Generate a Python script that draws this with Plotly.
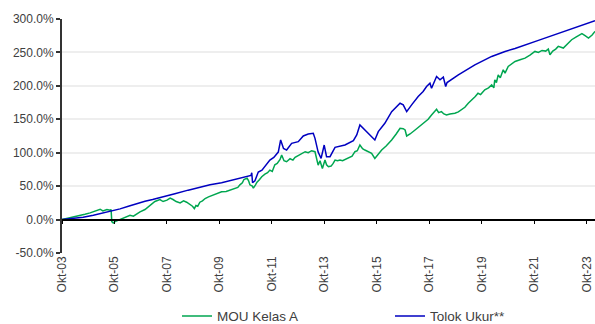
import plotly.graph_objects as go

# Cumulative return, MOU Kelas A (percent)
mou_dates = [
    "2003-10-01", "2004-01-19", "2004-04-01", "2004-06-10", "2004-08-15", "2004-10-26",
    "2005-01-26", "2005-03-15", "2005-04-22", "2005-06-17", "2005-07-31", "2005-08-14",
    "2005-08-24", "2005-09-13", "2005-10-08", "2005-11-25", "2006-01-08", "2006-02-25",
    "2006-05-05", "2006-06-21", "2006-08-08", "2006-09-21", "2006-11-29", "2007-02-06",
    "2007-04-16", "2007-06-25", "2007-08-08", "2007-10-01", "2007-11-14", "2007-12-24",
    "2008-02-06", "2008-04-01", "2008-05-19", "2008-07-01", "2008-08-18", "2008-09-20",
    "2008-10-16", "2008-11-07", "2008-12-02", "2009-01-01", "2009-02-06", "2009-03-15",
    "2009-05-01", "2009-06-18", "2009-08-15", "2009-10-30", "2010-01-01", "2010-02-25",
    "2010-05-05", "2010-06-13", "2010-07-12", "2010-08-15", "2010-09-06", "2010-10-20",
    "2010-11-10", "2010-11-28", "2011-01-01", "2011-01-15", "2011-02-14", "2011-03-07",
    "2011-04-12", "2011-05-12", "2011-06-25", "2011-08-01", "2011-09-02", "2011-10-05",
    "2011-11-10", "2011-12-13", "2012-01-22", "2012-02-13", "2012-03-17", "2012-04-22",
    "2012-06-09", "2012-07-19", "2012-08-18", "2012-09-20", "2012-10-27", "2012-12-02",
    "2013-01-05", "2013-02-17", "2013-04-05", "2013-05-22", "2013-06-13", "2013-07-05",
    "2013-07-31", "2013-09-02", "2013-10-08", "2013-10-30", "2013-11-25", "2014-01-01",
    "2014-01-30", "2014-02-25", "2014-04-01", "2014-05-05", "2014-06-10", "2014-07-13",
    "2014-08-29", "2014-10-20", "2014-11-29", "2015-01-01", "2015-02-06", "2015-03-15",
    "2015-04-16", "2015-06-03", "2015-07-19", "2015-09-02", "2015-10-16", "2015-12-06",
    "2016-02-06", "2016-03-14", "2016-04-23", "2016-06-25", "2016-08-18", "2016-10-01",
    "2016-10-27", "2016-11-18", "2017-01-04", "2017-03-15", "2017-05-23", "2017-07-31",
    "2017-09-13", "2017-10-30", "2018-01-08", "2018-02-06", "2018-03-17", "2018-04-20",
    "2018-05-26", "2018-07-13", "2018-09-20", "2018-11-07", "2018-12-24", "2019-02-06",
    "2019-03-25", "2019-05-30", "2019-07-01", "2019-08-08", "2019-09-13", "2019-11-10",
    "2020-01-01", "2020-02-14", "2020-03-15", "2020-03-28", "2020-04-20", "2020-05-15",
    "2020-06-13", "2020-07-24", "2020-08-18", "2020-10-01", "2020-11-18", "2021-01-04",
    "2021-03-15", "2021-05-23", "2021-07-31", "2021-10-08", "2021-11-25", "2022-01-15",
    "2022-03-07", "2022-04-12", "2022-05-05", "2022-06-13", "2022-07-24", "2022-08-29",
    "2022-11-07", "2022-12-28", "2023-03-03", "2023-05-01", "2023-06-13", "2023-07-24",
    "2023-09-06", "2023-10-23", "2023-12-13", "2024-01-22",
]
mou_values = [
    0, 2.5, 4, 5.5, 8, 10,
    14, 15.5, 13, 15, 14, 15,
    -3, -5, -3, -1, 1.5, 4,
    6.5, 5, 8.5, 11.5, 15, 21.5,
    27, 30, 27, 29, 32, 30,
    27, 25, 28, 26, 23, 20,
    16.5, 21, 20, 26, 28, 31.5,
    34, 36, 39, 41.5, 42, 44,
    46.5, 48, 52, 55, 60, 62,
    58, 52, 50, 47, 52, 56,
    60, 64, 68, 70, 74, 72,
    82, 84, 90, 96.5, 88, 86.5,
    91, 89, 93, 95, 96, 99,
    101.5, 100, 103, 101.5, 92, 81.5,
    88, 76.5, 89, 82, 79, 80,
    84, 89, 88, 89, 88, 90,
    93, 95, 101.5, 103, 111.5, 106,
    104, 102, 99, 91.5, 97, 104,
    110, 114, 119, 128, 136.5, 136,
    134, 125, 128, 134, 140, 146.5,
    150, 156.5, 165, 160, 161.5, 158,
    156.5, 158, 159, 161, 164, 168,
    174, 180, 184, 189, 187, 194,
    197, 201.5, 197, 209, 205, 216.5,
    212, 224, 219, 229, 233, 236.5,
    239, 241.5, 246, 251.5, 250, 253,
    252, 255, 246.5, 252, 255, 259,
    256.5, 262, 269, 273, 276, 278,
    275, 271.5, 276, 281.5,
]

# Cumulative return, benchmark (percent)
bench_dates = [
    "2003-10-01", "2004-04-01", "2004-07-22", "2004-12-10", "2005-05-22", "2005-08-24",
    "2005-12-17", "2006-04-12", "2006-08-08", "2006-11-29", "2007-03-15", "2007-06-25",
    "2007-10-01", "2008-01-19", "2008-07-22", "2009-01-04", "2009-05-22", "2009-10-30",
    "2010-05-05", "2010-09-20", "2010-12-13", "2010-12-24", "2011-01-04", "2011-02-06",
    "2011-03-25", "2011-05-15", "2011-06-25", "2011-09-02", "2011-10-27", "2011-12-28",
    "2012-01-30", "2012-03-10", "2012-04-22", "2012-07-01", "2012-10-01", "2012-12-10",
    "2013-02-17", "2013-04-28", "2013-05-22", "2013-07-05", "2013-08-15", "2013-09-27",
    "2013-10-30", "2013-12-17", "2014-02-25", "2014-07-13", "2014-11-07", "2014-12-24",
    "2015-02-06", "2015-03-25", "2015-06-03", "2015-09-02", "2015-10-20", "2016-01-19",
    "2016-04-23", "2016-08-18", "2016-10-01", "2016-11-18", "2017-01-26", "2017-04-27",
    "2017-07-05", "2017-08-22", "2017-10-08", "2017-10-30", "2018-01-08", "2018-02-25",
    "2018-04-12", "2018-05-15", "2018-06-03", "2018-11-07", "2019-06-25", "2020-02-14",
    "2020-08-18", "2021-01-04", "2021-11-25", "2022-11-30", "2024-01-22",
]
bench_values = [
    0, 2, 3.5, 6.5, 10.5, 12.5,
    16, 20, 24, 27.5, 30, 32.5,
    35, 38.5, 44, 49, 52, 55,
    60, 64, 66, 70, 55, 58,
    71, 74, 79, 89, 93, 101,
    119, 106.5, 104, 114, 116.5, 125,
    128, 129, 121.5, 101, 91.5, 111.5,
    94, 94, 108, 111.5, 118, 126.5,
    141.5, 136.5, 129, 119, 131.5, 144,
    161.5, 174, 171.5, 161.5, 171.5, 184,
    191.5, 199, 204, 196.5, 214, 209,
    213, 199, 205, 216.5, 231.5, 244,
    251.5, 256, 268, 281.5, 297.5,
]

tick_dates = ["2003-10-01", "2005-10-01", "2007-10-01", "2009-10-01", "2011-10-01",
              "2013-10-01", "2015-10-01", "2017-10-01", "2019-10-01", "2021-10-01",
              "2023-10-01"]
tick_labels = ["Okt-03", "Okt-05", "Okt-07", "Okt-09", "Okt-11", "Okt-13",
               "Okt-15", "Okt-17", "Okt-19", "Okt-21", "Okt-23"]
y_ticks = [-50, 0, 50, 100, 150, 200, 250, 300]
y_tick_labels = ["-50.0%", "0.0%", "50.0%", "100.0%", "150.0%", "200.0%", "250.0%", "300.0%"]

FONT = "Liberation Sans, Arial, sans-serif"
TEXT = "#404040"
x_range = ["2003-10-01", "2024-01-22"]

fig = go.Figure()
fig.add_trace(go.Scatter(
    x=mou_dates, y=mou_values, mode="lines", name="MOU Kelas A",
    line=dict(color="#00a650", width=1.5), xaxis="x", legend="legend",
))
fig.add_trace(go.Scatter(
    x=bench_dates, y=bench_values, mode="lines", name="Tolok Ukur**",
    line=dict(color="#0000c0", width=1.5), xaxis="x2", legend="legend2",
))

fig.update_layout(
    width=595, height=324,
    margin=dict(l=62, r=0, t=19, b=71, autoexpand=False),
    paper_bgcolor="white", plot_bgcolor="white",
    font=dict(family=FONT, size=12, color=TEXT),
    # bottom axis: labels only
    xaxis=dict(
        type="date", range=x_range, tickvals=tick_dates, ticktext=tick_labels,
        tickangle=-90, showgrid=False, showline=False, zeroline=False, ticks="",
        tickfont=dict(size=12, color=TEXT),
    ),
    # axis line with tick marks running along the 0% level
    xaxis2=dict(
        type="date", range=x_range, matches="x", overlaying="x", anchor="free",
        position=50 / 350, tickvals=tick_dates, showticklabels=False,
        showgrid=False, zeroline=False, showline=True, linecolor="#000000",
        linewidth=1.5, ticks="outside", ticklen=4, tickwidth=1.2, tickcolor="#000000",
    ),
    yaxis=dict(
        range=[-50, 300], tickvals=y_ticks, ticktext=y_tick_labels,
        showgrid=True, gridcolor="#eeeeee", gridwidth=1.5, zeroline=False,
        showline=True, linecolor="#333333", linewidth=2,
        ticks="outside", ticklen=4, tickwidth=1.5, tickcolor="#333333",
        tickfont=dict(size=12, color=TEXT),
    ),
    legend=dict(
        orientation="h", x=(177 - 62) / 533, xanchor="left", y=-0.27, yanchor="middle",
        font=dict(size=13.5, color=TEXT), bgcolor="rgba(0,0,0,0)",
        borderwidth=0, tracegroupgap=0,
    ),
    legend2=dict(
        orientation="h", x=(390 - 62) / 533, xanchor="left", y=-0.27, yanchor="middle",
        font=dict(size=13.5, color=TEXT), bgcolor="rgba(0,0,0,0)",
        borderwidth=0, tracegroupgap=0,
    ),
    showlegend=True,
)

fig.write_html("out.html")
